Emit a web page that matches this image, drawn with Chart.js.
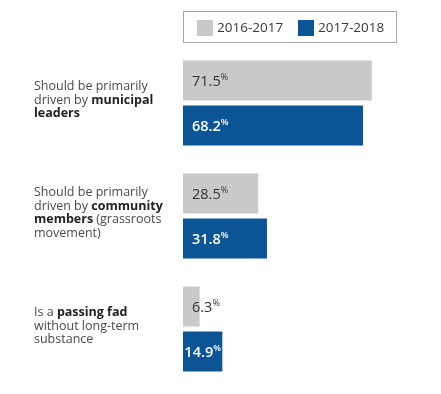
<!DOCTYPE html>
<html>
<head>
<meta charset="utf-8">
<script src="https://cdn.jsdelivr.net/npm/chart.js@4/dist/chart.umd.min.js"></script>
<style>
  html, body { margin: 0; padding: 0; background: #fff; }
  #wrap { position: relative; width: 441px; height: 394px; }
</style>
</head>
<body>
<div id="wrap"><canvas id="fadChart"></canvas></div>
<script>
// categories: each label is a list of lines, each line a list of [text, bold]
const categories = ['municipal', 'community', 'fad'];
const categoryLines = [
    [[['Should be primarily', false]], [['driven by ', false], ['municipal', true]], [['leaders', true]]],
    [[['Should be primarily', false]], [['driven by ', false], ['community', true]], [['members', true], [' (grassroots', false]], [['movement)', false]]],
    [[['Is a ', false], ['passing fad', true]], [['without long-term', false]], [['substance', false]]]
];
const seriesNames = ['2016-2017', '2017-2018'];
const values2016 = [71.5, 28.5, 6.3];
const values2017 = [68.2, 31.8, 14.9];

const GRAY = '#c9c9c9';
const BLUE = '#0b5596';
const TEXT = '#3a3a3a';
const FONT = '"Open Sans", sans-serif';

const annotations = {
    id: 'annotations',
    afterDatasetsDraw(chart) {
        const ctx = chart.ctx;
        const yScale = chart.scales.y;
        ctx.save();

        // legend box
        ctx.strokeStyle = '#a8a8a8';
        ctx.lineWidth = 1;
        ctx.strokeRect(183.5, 11.5, 213, 31);
        ctx.font = '13.5px ' + FONT;
        ctx.textBaseline = 'middle';
        const legendX = [197, 298];
        chart.data.datasets.forEach(function (ds, i) {
            ctx.fillStyle = ds.backgroundColor;
            ctx.fillRect(legendX[i], 20, 16, 16);
            ctx.fillStyle = TEXT;
            ctx.textAlign = 'left';
            ctx.fillText(ds.label, legendX[i] + 20, 28.5);
        });

        // category labels, mixed bold
        ctx.font = '12.5px ' + FONT;
        categoryLines.forEach(function (lines, i) {
            const cy = yScale.getPixelForValue(i) - 3;
            const lh = 13.5;
            const top = cy - (lines.length - 1) * lh / 2;
            lines.forEach(function (segs, j) {
                let x = 34;
                segs.forEach(function (seg) {
                    ctx.font = (seg[1] ? '700 ' : '400 ') + '12.5px ' + FONT;
                    ctx.fillStyle = seg[1] ? '#222' : '#4a4a4a';
                    ctx.textAlign = 'left';
                    ctx.fillText(seg[0], x, top + j * lh);
                    x += ctx.measureText(seg[0]).width;
                });
            });
        });

        // value labels inside bars
        chart.data.datasets.forEach(function (ds, di) {
            const meta = chart.getDatasetMeta(di);
            meta.data.forEach(function (bar, i) {
                const num = ds.data[i].toFixed(1);
                const big = (di === 1 ? '600 ' : '500 ') + '14.5px ' + FONT;
                const small = (di === 1 ? '600 ' : '500 ') + '9px ' + FONT;
                ctx.font = big;
                const w1 = ctx.measureText(num).width;
                ctx.font = small;
                const w2 = ctx.measureText('%').width;
                const tw = w1 + w2;
                const barW = bar.x - bar.base;
                let off = 9;
                if (tw + 2 * off > barW && barW > tw) off = (barW - tw) / 2;
                const x = bar.base + off;
                ctx.fillStyle = di === 1 ? '#ffffff' : '#333333';
                ctx.textAlign = 'left';
                ctx.font = big;
                ctx.fillText(num, x, bar.y + 1);
                ctx.font = small;
                ctx.fillText('%', x + w1, bar.y - 3);
            });
        });
        ctx.restore();
    }
};

new Chart(document.getElementById('fadChart'), {
    type: 'bar',
    data: {
        labels: categories,
        datasets: [
            { label: seriesNames[0], data: values2016, backgroundColor: GRAY },
            { label: seriesNames[1], data: values2017, backgroundColor: BLUE }
        ]
    },
    options: {
        indexAxis: 'y',
        responsive: true,
        maintainAspectRatio: false,
        animation: false,
        categoryPercentage: 0.796,
        barPercentage: 0.889,
        layout: { padding: { left: 183, top: 46.5, bottom: 8.5, right: 8 } },
        scales: {
            x: { display: false, min: 0, max: 94.7 },
            y: { display: false }
        },
        plugins: {
            legend: { display: false },
            tooltip: { enabled: false }
        }
    },
    plugins: [annotations]
});
</script>
</body>
</html>
